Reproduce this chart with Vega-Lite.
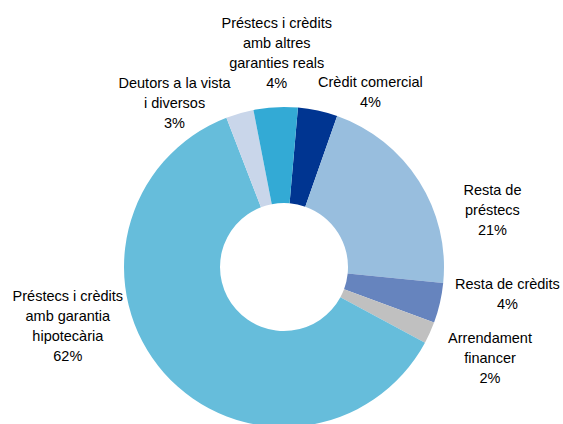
{
  "$schema": "https://vega.github.io/schema/vega-lite/v6.json",
  "width": 558,
  "height": 314,
  "autosize": "none",
  "padding": {"left": 5, "right": 0, "top": 110, "bottom": 0},
  "background": "white",
  "config": {"view": {"stroke": null}},
  "data": {
    "values": [
      {"cat": "Crèdit comercial", "value": 4.0, "order": 1, "label": "Crèdit comercial|4%"},
      {"cat": "Resta de préstecs", "value": 21.2, "order": 2, "label": "Resta de|préstecs|21%"},
      {"cat": "Resta de crèdits", "value": 4.05, "order": 3, "label": "Resta de crèdits|4%"},
      {"cat": "Arrendament financer", "value": 2.2, "order": 4, "label": "Arrendament|financer|2%"},
      {"cat": "Préstecs i crèdits amb garantia hipotecària", "value": 61.3, "order": 5, "label": "Préstecs i crèdits|amb garantia|hipotecària|62%"},
      {"cat": "Deutors a la vista i diversos", "value": 2.8, "order": 6, "label": "Deutors a la vista|i diversos|3%"},
      {"cat": "Préstecs i crèdits amb altres garanties reals", "value": 4.45, "order": 7, "label": "Préstecs i crèdits|amb altres|garanties reals|4%"}
    ]
  },
  "transform": [
    {"window": [{"op": "sum", "field": "value", "as": "cum"}], "sort": [{"field": "order", "order": "ascending"}], "frame": [null, 0]},
    {"calculate": "datum.cum - datum.value", "as": "start"},
    {"calculate": "datum.cum - datum.value / 2", "as": "mid"}
  ],
  "layer": [
    {
      "mark": {"type": "arc", "outerRadius": 160, "innerRadius": 64},
      "encoding": {
        "theta": {"field": "start", "type": "quantitative", "scale": {"type": "linear", "domain": [0, 100], "range": [0.0873, 6.3705]}},
        "theta2": {"field": "cum"},
        "color": {
          "field": "cat", "type": "nominal", "legend": null,
          "scale": {
            "domain": ["Crèdit comercial", "Resta de préstecs", "Resta de crèdits", "Arrendament financer", "Préstecs i crèdits amb garantia hipotecària", "Deutors a la vista i diversos", "Préstecs i crèdits amb altres garanties reals"],
            "range": ["#003591", "#98BEDE", "#6684BE", "#C0C0C0", "#66BDDB", "#C9D6EA", "#33AAD5"]
          }
        }
      }
    },
    {
      "transform": [{"filter": "datum.order == 1"}],
      "mark": {"type": "text", "radius": 215, "dx": 41, "dy": 26, "lineBreak": "|", "lineHeight": 20, "font": "Liberation Sans", "fontSize": 14.5, "color": "#000000", "align": "center", "baseline": "middle"},
      "encoding": {"theta": {"field": "mid", "type": "quantitative"}, "text": {"field": "label", "type": "nominal"}}
    },
    {
      "transform": [{"filter": "datum.order == 2"}],
      "mark": {"type": "text", "radius": 215, "dx": 27, "dy": 39, "lineBreak": "|", "lineHeight": 20, "font": "Liberation Sans", "fontSize": 14.5, "color": "#000000", "align": "center", "baseline": "middle"},
      "encoding": {"theta": {"field": "mid", "type": "quantitative"}, "text": {"field": "label", "type": "nominal"}}
    },
    {
      "transform": [{"filter": "datum.order == 3"}],
      "mark": {"type": "text", "radius": 215, "dx": 14, "dy": -30, "lineBreak": "|", "lineHeight": 20, "font": "Liberation Sans", "fontSize": 14.5, "color": "#000000", "align": "center", "baseline": "middle"},
      "encoding": {"theta": {"field": "mid", "type": "quantitative"}, "text": {"field": "label", "type": "nominal"}}
    },
    {
      "transform": [{"filter": "datum.order == 4"}],
      "mark": {"type": "text", "radius": 215, "dx": 10, "dy": -16, "lineBreak": "|", "lineHeight": 20, "font": "Liberation Sans", "fontSize": 14.5, "color": "#000000", "align": "center", "baseline": "middle"},
      "encoding": {"theta": {"field": "mid", "type": "quantitative"}, "text": {"field": "label", "type": "nominal"}}
    },
    {
      "transform": [{"filter": "datum.order == 5"}],
      "mark": {"type": "text", "radius": 215, "dx": -55, "dy": -112, "lineBreak": "|", "lineHeight": 20, "font": "Liberation Sans", "fontSize": 14.5, "color": "#000000", "align": "center", "baseline": "middle"},
      "encoding": {"theta": {"field": "mid", "type": "quantitative"}, "text": {"field": "label", "type": "nominal"}}
    },
    {
      "transform": [{"filter": "datum.order == 6"}],
      "mark": {"type": "text", "radius": 215, "dx": -50, "dy": 24, "lineBreak": "|", "lineHeight": 20, "font": "Liberation Sans", "fontSize": 14.5, "color": "#000000", "align": "center", "baseline": "middle"},
      "encoding": {"theta": {"field": "mid", "type": "quantitative"}, "text": {"field": "label", "type": "nominal"}}
    },
    {
      "transform": [{"filter": "datum.order == 7"}],
      "mark": {"type": "text", "radius": 215, "dx": 4, "dy": -28, "lineBreak": "|", "lineHeight": 20, "font": "Liberation Sans", "fontSize": 14.5, "color": "#000000", "align": "center", "baseline": "middle"},
      "encoding": {"theta": {"field": "mid", "type": "quantitative"}, "text": {"field": "label", "type": "nominal"}}
    }
  ]
}
